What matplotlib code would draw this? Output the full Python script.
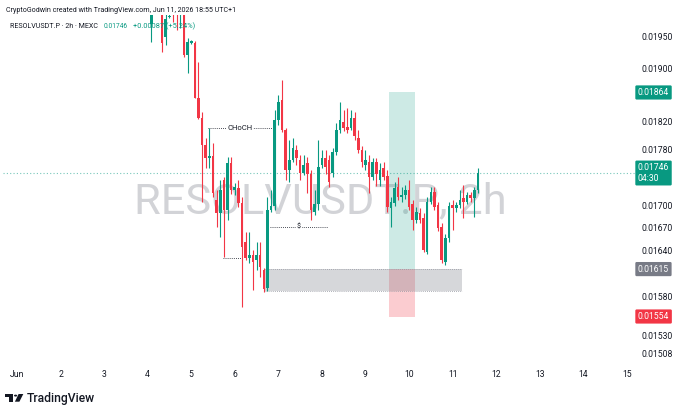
import matplotlib
matplotlib.use("Agg")
import matplotlib.pyplot as plt
from matplotlib.patches import Circle, Polygon
from matplotlib.ticker import NullLocator
from matplotlib.transforms import blended_transform_factory

plt.rcParams["font.family"] = ["Roboto", "DejaVu Sans"]

UP = "#089981"
DOWN = "#f23645"
TXT = "#131722"

# 2h candles, first bar on Jun 4 02:00 (x axis in day-of-month units)
start_day = 4 + 2 / 24
bar_days = 2 / 24

opens = [0.01970, 0.01995, 0.02015, 0.02000, 0.01950, 0.01981, 0.02010, 0.02005, 0.01990, 0.02005,
         0.01922, 0.01941, 0.01941, 0.01856, 0.01826, 0.01786, 0.01768, 0.01770, 0.01708, 0.01690,
         0.01736, 0.01695, 0.01760, 0.01722, 0.01725, 0.01704, 0.01651, 0.01629, 0.01633, 0.01627,
         0.01633, 0.01614, 0.01590, 0.01695, 0.01700, 0.01823, 0.01853, 0.01808, 0.01750, 0.01765,
         0.01779, 0.01765, 0.01746, 0.01760, 0.01745, 0.01692, 0.01702, 0.01757, 0.01768, 0.01765,
         0.01746, 0.01776, 0.01808, 0.01820, 0.01812, 0.01811, 0.01826, 0.01797, 0.01779, 0.01757,
         0.01762, 0.01740, 0.01762, 0.01736, 0.01753, 0.01742, 0.01697, 0.01704, 0.01726, 0.01712,
         0.01715, 0.01722, 0.01702, 0.01680, 0.01690, 0.01684, 0.01638, 0.01706, 0.01719, 0.01701,
         0.01671, 0.01624, 0.01656, 0.01701, 0.01697, 0.01701, 0.01711, 0.01706, 0.01715, 0.01711,
         0.01722]
highs = [0.01993, 0.02020, 0.02025, 0.02005, 0.01986, 0.01986, 0.02020, 0.02015, 0.02020, 0.02012,
         0.01948, 0.01945, 0.01944, 0.01911, 0.01835, 0.01797, 0.01811, 0.01789, 0.01722, 0.01736,
         0.01740, 0.01769, 0.01769, 0.01732, 0.01736, 0.01712, 0.01664, 0.01664, 0.01640, 0.01651,
         0.01651, 0.01616, 0.01712, 0.01722, 0.01838, 0.01860, 0.01883, 0.01811, 0.01794, 0.01797,
         0.01786, 0.01772, 0.01772, 0.01769, 0.01750, 0.01722, 0.01794, 0.01779, 0.01779, 0.01772,
         0.01782, 0.01818, 0.01849, 0.01838, 0.01841, 0.01838, 0.01835, 0.01808, 0.01784, 0.01779,
         0.01772, 0.01768, 0.01768, 0.01760, 0.01762, 0.01750, 0.01712, 0.01733, 0.01740, 0.01726,
         0.01729, 0.01736, 0.01708, 0.01699, 0.01697, 0.01690, 0.01712, 0.01726, 0.01726, 0.01706,
         0.01676, 0.01661, 0.01706, 0.01708, 0.01706, 0.01722, 0.01729, 0.01719, 0.01719, 0.01726,
         0.01753]
lows = [0.01942, 0.01990, 0.01992, 0.01927, 0.01937, 0.01980, 0.01974, 0.01961, 0.01964, 0.01919,
        0.01894, 0.01939, 0.01855, 0.01824, 0.01706, 0.01753, 0.01753, 0.01712, 0.01671, 0.01657,
        0.01631, 0.01681, 0.01717, 0.01715, 0.01699, 0.01566, 0.01627, 0.01623, 0.01588, 0.01614,
        0.01605, 0.01585, 0.01586, 0.01692, 0.01695, 0.01815, 0.01805, 0.01736, 0.01733, 0.01762,
        0.01757, 0.01736, 0.01743, 0.01718, 0.01681, 0.01688, 0.01695, 0.01753, 0.01744, 0.01726,
        0.01740, 0.01772, 0.01803, 0.01806, 0.01803, 0.01808, 0.01794, 0.01775, 0.01755, 0.01750,
        0.01718, 0.01736, 0.01728, 0.01728, 0.01736, 0.01692, 0.01671, 0.01700, 0.01708, 0.01705,
        0.01710, 0.01695, 0.01667, 0.01676, 0.01676, 0.01637, 0.01635, 0.01702, 0.01695, 0.01666,
        0.01623, 0.01620, 0.01651, 0.01667, 0.01692, 0.01697, 0.01684, 0.01702, 0.01706, 0.01685,
        0.01718]
closes = [0.01986, 0.02010, 0.02000, 0.01940, 0.01978, 0.01983, 0.01995, 0.01992, 0.02010, 0.01922,
          0.01942, 0.01943, 0.01856, 0.01826, 0.01786, 0.01768, 0.01771, 0.01718, 0.01690, 0.01722,
          0.01695, 0.01760, 0.01722, 0.01726, 0.01704, 0.01644, 0.01629, 0.01633, 0.01624, 0.01633,
          0.01618, 0.01589, 0.01695, 0.01700, 0.01823, 0.01850, 0.01808, 0.01750, 0.01765, 0.01782,
          0.01768, 0.01746, 0.01757, 0.01745, 0.01695, 0.01702, 0.01754, 0.01768, 0.01754, 0.01733,
          0.01776, 0.01808, 0.01823, 0.01811, 0.01808, 0.01826, 0.01799, 0.01779, 0.01762, 0.01765,
          0.01740, 0.01762, 0.01745, 0.01750, 0.01740, 0.01699, 0.01706, 0.01725, 0.01712, 0.01715,
          0.01722, 0.01699, 0.01681, 0.01692, 0.01681, 0.01640, 0.01706, 0.01719, 0.01699, 0.01670,
          0.01627, 0.01656, 0.01700, 0.01697, 0.01701, 0.01708, 0.01706, 0.01715, 0.01711, 0.01722,
          0.01746]

# axis (ticks hidden under the price tags are left out)
y_ticks = [0.01950, 0.01900, 0.01820, 0.01780, 0.01700, 0.01670, 0.01640,
           0.01580, 0.01530, 0.01508]
x_days = list(range(1, 16))
x_labels = ["Jun"] + [str(d) for d in range(2, 16)]

# drawings
last_price = 0.01746
take_profit = 0.01864
entry = 0.01615
stop = 0.01554
pos_days = (9.54, 10.13)
zone_low, zone_high = 0.01586, 0.01615
zone_days = (6.67, 11.21)
choch_price, choch_days = 0.01811, (5.39, 6.85)
liq_price, liq_days = 0.01671, (6.81, 8.14)
low_price, low_days = 0.01629, (5.73, 6.16)

W, H = 680, 415
fig = plt.figure(figsize=(W / 100, H / 100), dpi=100)
ax = fig.add_axes([3 / W, 1 - 365 / H, 633 / W, 350 / H])
ax.set_yscale("log")
ax.set_xlim(0.68, 15.21)
ax.set_ylim(0.01494, 0.01985)
for s in ax.spines.values():
    s.set_visible(False)

# watermark
wm = ax.text(0.502, 0.434, "RESOLVUSDT.P, 2h", transform=ax.transAxes, ha="center",
             va="baseline", color="#787b86", alpha=0.33, fontsize=40, zorder=0)

# candles
xs = [start_day + i * bar_days for i in range(len(opens))]
cols = [UP if c >= o else DOWN for o, c in zip(opens, closes)]
ax.vlines(xs, lows, highs, colors=cols, linewidth=0.8, zorder=3)
bottoms = [min(o, c) for o, c in zip(opens, closes)]
heights = [max(abs(c - o), 0.00002) for o, c in zip(opens, closes)]
ax.bar(xs, heights, bottom=bottoms, width=bar_days * 0.72, color=cols, linewidth=0, zorder=4)

# long position box
ax.fill_between(pos_days, entry, take_profit, color=UP, alpha=0.2, linewidth=0, zorder=1)
ax.fill_between(pos_days, stop, entry, color=DOWN, alpha=0.25, linewidth=0, zorder=1)
# demand zone
ax.fill_between(zone_days, zone_low, zone_high, color="#787b86", alpha=0.3, linewidth=0, zorder=1)
ax.hlines([zone_low, zone_high], *zone_days, colors="#9598a1", linestyles=(0, (1, 1.5)),
          linewidth=0.6, zorder=1)

# price line
ax.axhline(last_price, color=UP, alpha=0.55, linestyle=(0, (1, 2)), linewidth=0.8, zorder=2)

# structure lines
dot = (0, (1, 1.5))
ax.hlines(choch_price, *choch_days, colors="#131722", linestyles=dot, linewidth=0.6, zorder=2)
ax.text(sum(choch_days) / 2, choch_price, "CHoCH", ha="center", va="center", fontsize=5.5,
        color=TXT, zorder=5, bbox=dict(facecolor="white", edgecolor="none", pad=0.6))
ax.hlines(liq_price, *liq_days, colors="#131722", linestyles=dot, linewidth=0.6, zorder=2)
ax.text(sum(liq_days) / 2, liq_price, "$", ha="center", va="center", fontsize=5,
        color=TXT, zorder=5, bbox=dict(facecolor="white", edgecolor="none", pad=0.6))
ax.hlines(low_price, *low_days, colors="#131722", linestyles=dot, linewidth=0.6, zorder=2)

# ticks
ax.yaxis.tick_right()
ax.yaxis.set_minor_locator(NullLocator())
ax.set_yticks(y_ticks)
ax.set_yticklabels([f"{v:.5f}" for v in y_ticks])
ax.xaxis.set_minor_locator(NullLocator())
ax.set_xticks(x_days)
ax.set_xticklabels(x_labels)
ax.tick_params(axis="y", length=0, pad=4, labelsize=6.2, labelcolor=TXT)
ax.tick_params(axis="x", length=0, pad=3.5, labelsize=6.2, labelcolor=TXT)

# price tags on the right scale
trans = blended_transform_factory(ax.transAxes, ax.transData)
def tag(price, text, color):
    ax.text(1.003, price, text, transform=trans, ha="left", va="center", fontsize=6.2,
            color="white", zorder=10, clip_on=False, linespacing=1.25,
            bbox=dict(boxstyle="round,pad=0.3,rounding_size=0.15", facecolor=color,
                      edgecolor="none"))

tag(take_profit, f"{take_profit:.5f}", UP)
tag(last_price, f"{last_price:.5f}\n04:30", UP)
tag(entry, f"{entry:.5f}", "#787b86")
tag(stop, f"{stop:.5f}", DOWN)

# header
h1 = fig.text(6 / W, 1 - 10 / H, "CryptoGodwin created with TradingView.com, Jun 11, 2026 18:55 UTC+1",
              ha="left", va="center", fontsize=6.3, color=TXT)
h2 = fig.text(10 / W, 1 - 26 / H, "RESOLVUSDT.P \u00b7 2h \u00b7 MEXC", ha="left", va="center",
              fontsize=6.3, color=TXT)
h3 = fig.text(104 / W, 1 - 26 / H, "0.01746", ha="left", va="center", fontsize=6.3, color=UP)
h4 = fig.text(133 / W, 1 - 26 / H, "+0.00087 (+5.24%)", ha="left", va="center", fontsize=6.3,
              color=UP)

# footer logo
def px(x, y):
    return (x / W, 1 - y / H)

fig.patches.append(Polygon([px(5, 394), px(13.3, 394), px(13.3, 401.7), px(9.3, 401.7),
                            px(9.3, 396.8), px(5, 396.8)], closed=True, transform=fig.transFigure,
                           facecolor=TXT, edgecolor="none"))
fig.patches.append(Circle(px(15.6, 395.6), 1.6 / W, transform=fig.transFigure,
                          facecolor=TXT, edgecolor="none"))
fig.patches.append(Polygon([px(18.6, 394), px(23.3, 394), px(19.4, 401.7), px(14.9, 401.7)],
                           closed=True, transform=fig.transFigure, facecolor=TXT, edgecolor="none"))
logo = fig.text(27 / W, 1 - 401.5 / H, "TradingView", ha="left", va="baseline", fontsize=8.2,
                fontweight="medium", color=TXT)

# match text widths to the reference
r = fig.canvas.get_renderer()
def fit(t, width_px):
    w = t.get_window_extent(r).width
    t.set_fontsize(t.get_fontsize() * width_px / w)

fit(wm, 372)
fit(h1, 231)
fit(h2, 89)
fit(h3, 24)
fit(h4, 62)
fit(logo, 68)

fig.savefig("out.png", dpi=100)
